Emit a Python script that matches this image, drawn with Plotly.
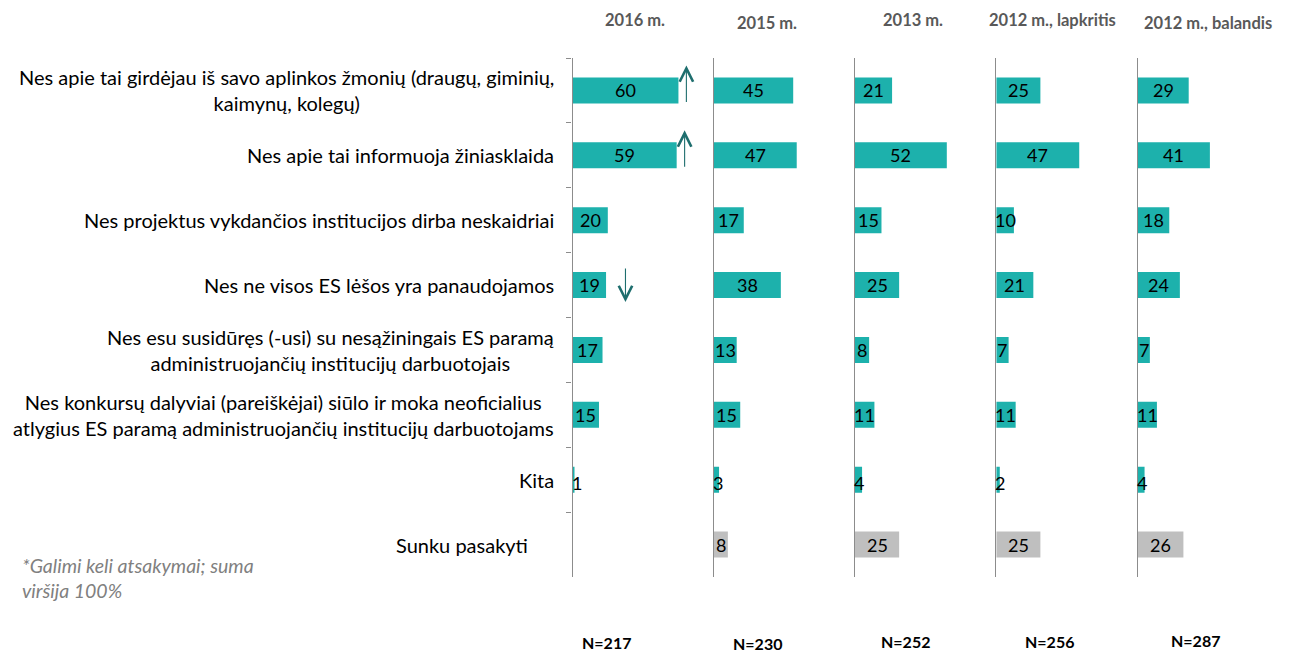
import plotly.graph_objects as go

categories = [
    "Nes apie tai girdėjau iš savo aplinkos žmonių (draugų, giminių,<br>kaimynų, kolegų)",
    "Nes apie tai informuoja žiniasklaida",
    "Nes projektus vykdančios institucijos dirba neskaidriai",
    "Nes ne visos ES lėšos yra panaudojamos",
    "Nes esu susidūręs (-usi) su nesąžiningais ES paramą<br>administruojančių institucijų darbuotojais",
    "Nes konkursų dalyviai (pareiškėjai) siūlo ir moka neoficialius<br>atlygius ES paramą administruojančių institucijų darbuotojams",
    "Kita",
    "Sunku pasakyti",
]
waves = ["2016 m.", "2015 m.", "2013 m.", "2012 m., lapkritis", "2012 m., balandis"]
sample_sizes = ["N=217", "N=230", "N=252", "N=256", "N=287"]

v2016 = [60, 59, 20, 19, 17, 15, 1, None]
v2015 = [45, 47, 17, 38, 13, 15, 3, 8]
v2013 = [21, 52, 15, 25, 8, 11, 4, 25]
v2012_nov = [25, 47, 10, 21, 7, 11, 2, 25]
v2012_apr = [29, 41, 18, 24, 7, 11, 4, 26]
series = [v2016, v2015, v2013, v2012_nov, v2012_apr]

# significant changes in 2016 (row index, direction)
changes_2016 = [(0, "up"), (1, "up"), (3, "down")]

footnote = "*Galimi keli atsakymai; suma<br>viršija 100%"

TEAL = "#1DB1AC"
GREY = "#BFBFBF"
AXIS = "#8C8C8C"
FONT = "Lato"

# page body has an 8px margin -> shift figure so it lines up with the viewport
OFF = 8
W, H = 1295 - OFF, 652 - OFF


def xp(p):
    return (p - OFF) / W


def yp(p):
    return 1 - (p - OFF) / H


px_per_unit = 1.7656
panel_px = 141.25
x0_px = 572.5
y_top_px, y_bot_px = 58, 577
header_pos = [(635, 20), (767, 23), (913, 20), (1052, 20), (1208, 23)]
n_pos = [(606, 642), (757, 643), (905, 641), (1049, 641), (1195, 640)]

fig = go.Figure()
layout = {}
annotations = []

for i, vals in enumerate(series):
    n = i + 1
    xa = "x" if n == 1 else f"x{n}"
    ya = "y" if n == 1 else f"y{n}"
    colors = [TEAL] * (len(categories) - 1) + [GREY]
    fig.add_trace(go.Bar(
        x=vals, y=categories, orientation="h",
        marker=dict(color=colors, line=dict(width=0)),
        width=0.4, xaxis=xa, yaxis=ya, hoverinfo="x+y",
    ))
    left = x0_px + i * panel_px
    layout["xaxis" if n == 1 else f"xaxis{n}"] = dict(
        domain=[xp(left), xp(left + panel_px)], range=[0, panel_px / px_per_unit],
        visible=False, anchor=ya, fixedrange=True,
    )
    yd = dict(
        domain=[yp(y_bot_px), yp(y_top_px)],
        type="category", categoryorder="array", categoryarray=categories,
        range=[len(categories) - 0.5, -0.5],
        showline=True, linecolor=AXIS, linewidth=1.3,
        showticklabels=False, showgrid=False, zeroline=False,
        anchor=xa, fixedrange=True,
    )
    if n == 1:
        yd.update(ticks="outside", tickson="boundaries", ticklen=5,
                  tickcolor=AXIS, tickwidth=1.3)
    else:
        yd.update(ticks="", matches="y")
    layout["yaxis" if n == 1 else f"yaxis{n}"] = yd

    # value labels
    for cat, v in zip(categories, vals):
        if v is None:
            continue
        txt = str(v)
        tw = 10.0 * len(txt)
        bar_px = v * px_per_unit
        if bar_px / 2 >= tw / 2 + 1:
            annotations.append(dict(x=v / 2, y=cat, xref=xa, yref=ya, text=txt,
                                    showarrow=False, xanchor="center",
                                    font=dict(family=FONT, size=18, color="black")))
        else:
            annotations.append(dict(x=0, y=cat, xref=xa, yref=ya, text=txt,
                                    showarrow=False, xanchor="left", xshift=-3,
                                    yshift=-3 if v < 5 else 0,
                                    font=dict(family=FONT, size=18, color="black")))

    hx, hy = header_pos[i]
    annotations.append(dict(x=xp(hx), y=yp(hy), xref="paper", yref="paper",
                            text=f"<b>{waves[i]}</b>", showarrow=False,
                            xanchor="center", yanchor="middle",
                            font=dict(family=FONT, size=16.5, color="#595959")))
    nx, ny = n_pos[i]
    annotations.append(dict(x=xp(nx), y=yp(ny), xref="paper", yref="paper",
                            text=f"<b>{sample_sizes[i]}</b>", showarrow=False,
                            xanchor="center", yanchor="middle",
                            font=dict(family=FONT, size=16, color="black")))

# significance arrows
for row, d in changes_2016:
    v = v2016[row]
    if d == "up":
        annotations.append(dict(x=v + 4.5, y=categories[row], xref="x", yref="y",
                                text="", showarrow=True, arrowhead=5, arrowsize=2.4,
                                arrowwidth=1.1, arrowcolor="#1E6E6E",
                                ax=0, ay=38, yshift=25))
    else:
        annotations.append(dict(x=v + 11, y=categories[row], xref="x", yref="y",
                                text="", showarrow=True, arrowhead=5, arrowsize=2.4,
                                arrowwidth=1.1, arrowcolor="#1E6E6E",
                                ax=0, ay=-35, yshift=-17))

# category labels
for cat in categories:
    label = cat
    if cat == "Sunku pasakyti":
        label = cat + "\u00a0" * 5
    annotations.append(dict(x=xp(556), y=cat, xref="paper", yref="y", text=label,
                            showarrow=False, xanchor="right", align="center",
                            font=dict(family=FONT, size=20, color="black")))

annotations.append(dict(x=xp(20), y=yp(578), xref="paper", yref="paper",
                        text=f"<i>{footnote}</i>", showarrow=False, xanchor="left",
                        yanchor="middle", align="left",
                        font=dict(family=FONT, size=19.5, color="#808080")))

fig.update_layout(
    width=W, height=H, margin=dict(l=0, r=0, t=0, b=0),
    paper_bgcolor="white", plot_bgcolor="white",
    showlegend=False, annotations=annotations, **layout,
)
fig.write_html("out.html")
